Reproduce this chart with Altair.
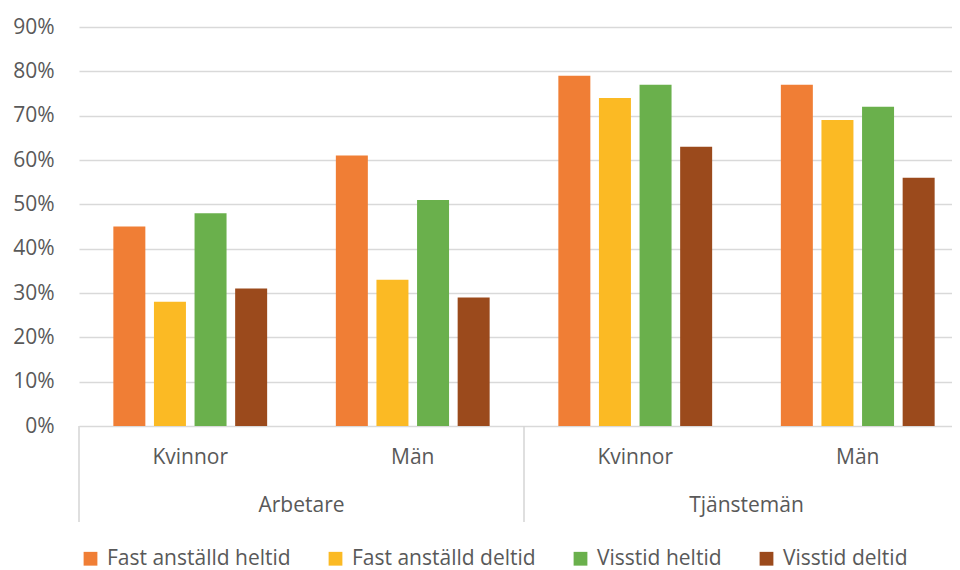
import altair as alt
import pandas as pd

# ---- data ----
grupper = ["Arbetare", "Arbetare", "Tjänstemän", "Tjänstemän"]
kon = ["Kvinnor", "Män", "Kvinnor", "Män"]
serier = ["Fast anställd heltid", "Fast anställd deltid", "Visstid heltid", "Visstid deltid"]
fast_heltid = [45, 61, 79, 77]
fast_deltid = [28, 33, 74, 69]
visstid_heltid = [48, 51, 77, 72]
visstid_deltid = [31, 29, 63, 56]
y_ticks = [0, 10, 20, 30, 40, 50, 60, 70, 80, 90]
farger = ["#F07E35", "#FBBA24", "#6AB04C", "#9B4A1C"]

cats = [g + "|" + k for g, k in zip(grupper, kon)]
serie_values = [fast_heltid, fast_deltid, visstid_heltid, visstid_deltid]

rows = []
for s, vals in zip(serier, serie_values):
    for c, v in zip(cats, vals):
        rows.append({"cat": c, "serie": s, "varde": v})
bars_df = pd.DataFrame(rows)

sub_df = pd.DataFrame({"cat": cats, "kon": kon})
# group labels / separators sit at the left edge of a band (half a band step left of its centre)
grp_df = pd.DataFrame({"cat": [cats[1], cats[3]], "grupp": [grupper[0], grupper[2]]})
sep_df = pd.DataFrame({"cat": [cats[0], cats[2]]})

FONT = "Open Sans"
TXT = "#595959"
RANGE_W = 890
HALF_STEP = RANGE_W / len(cats) / 2

x_enc = alt.X("cat:N", sort=cats, axis=None,
              scale=alt.Scale(range=[0, RANGE_W], paddingInner=0, paddingOuter=0))

bars = alt.Chart(bars_df).mark_bar().encode(
    x=x_enc,
    xOffset=alt.XOffset("serie:N", sort=serier,
                        scale=alt.Scale(paddingInner=0.212, paddingOuter=0.846)),
    y=alt.Y("varde:Q",
            scale=alt.Scale(domain=[0, 90], nice=False),
            axis=alt.Axis(values=y_ticks, labelExpr="datum.value + '%'",
                          domain=False, ticks=False, grid=True,
                          gridColor="#D9D9D9", gridWidth=1.5,
                          labelFont=FONT, labelFontSize=21, labelColor=TXT,
                          labelPadding=25, title=None)),
    color=alt.Color("serie:N", sort=serier,
                    scale=alt.Scale(domain=serier, range=farger),
                    legend=alt.Legend(title=None, orient="none", legendX=1, legendY=521,
                                      direction="horizontal", columns=4,
                                      symbolType="square", symbolSize=190,
                                      symbolStrokeWidth=0, labelFont=FONT,
                                      labelFontSize=21, labelColor=TXT, labelLimit=400,
                                      labelOffset=6, columnPadding=34, padding=0)),
)

sub_labels = alt.Chart(sub_df).mark_text(
    font=FONT, fontSize=21, color=TXT, baseline="middle", align="center"
).encode(
    x=alt.X("cat:N", sort=cats),
    y=alt.value(431),
    text="kon:N",
)

grp_labels = alt.Chart(grp_df).mark_text(
    font=FONT, fontSize=21, color=TXT, baseline="middle", align="center",
    xOffset=-HALF_STEP,
).encode(
    x=alt.X("cat:N", sort=cats),
    y=alt.value(479),
    text="grupp:N",
)

seps = alt.Chart(sep_df).mark_rule(color="#D4D4D4", strokeWidth=1.5,
                                   xOffset=-HALF_STEP).encode(
    x=alt.X("cat:N", sort=cats),
    y=alt.value(399),
    y2=alt.value(495),
)

chart = alt.layer(bars, sub_labels, grp_labels, seps).properties(
    width=873, height=399,
    autosize=alt.AutoSizeParams(type="none"),
    padding={"left": 71, "top": 19, "right": 0, "bottom": 144},
).configure_view(stroke=None)

chart.save("out.html", embed_options={"renderer": "svg", "actions": False})
